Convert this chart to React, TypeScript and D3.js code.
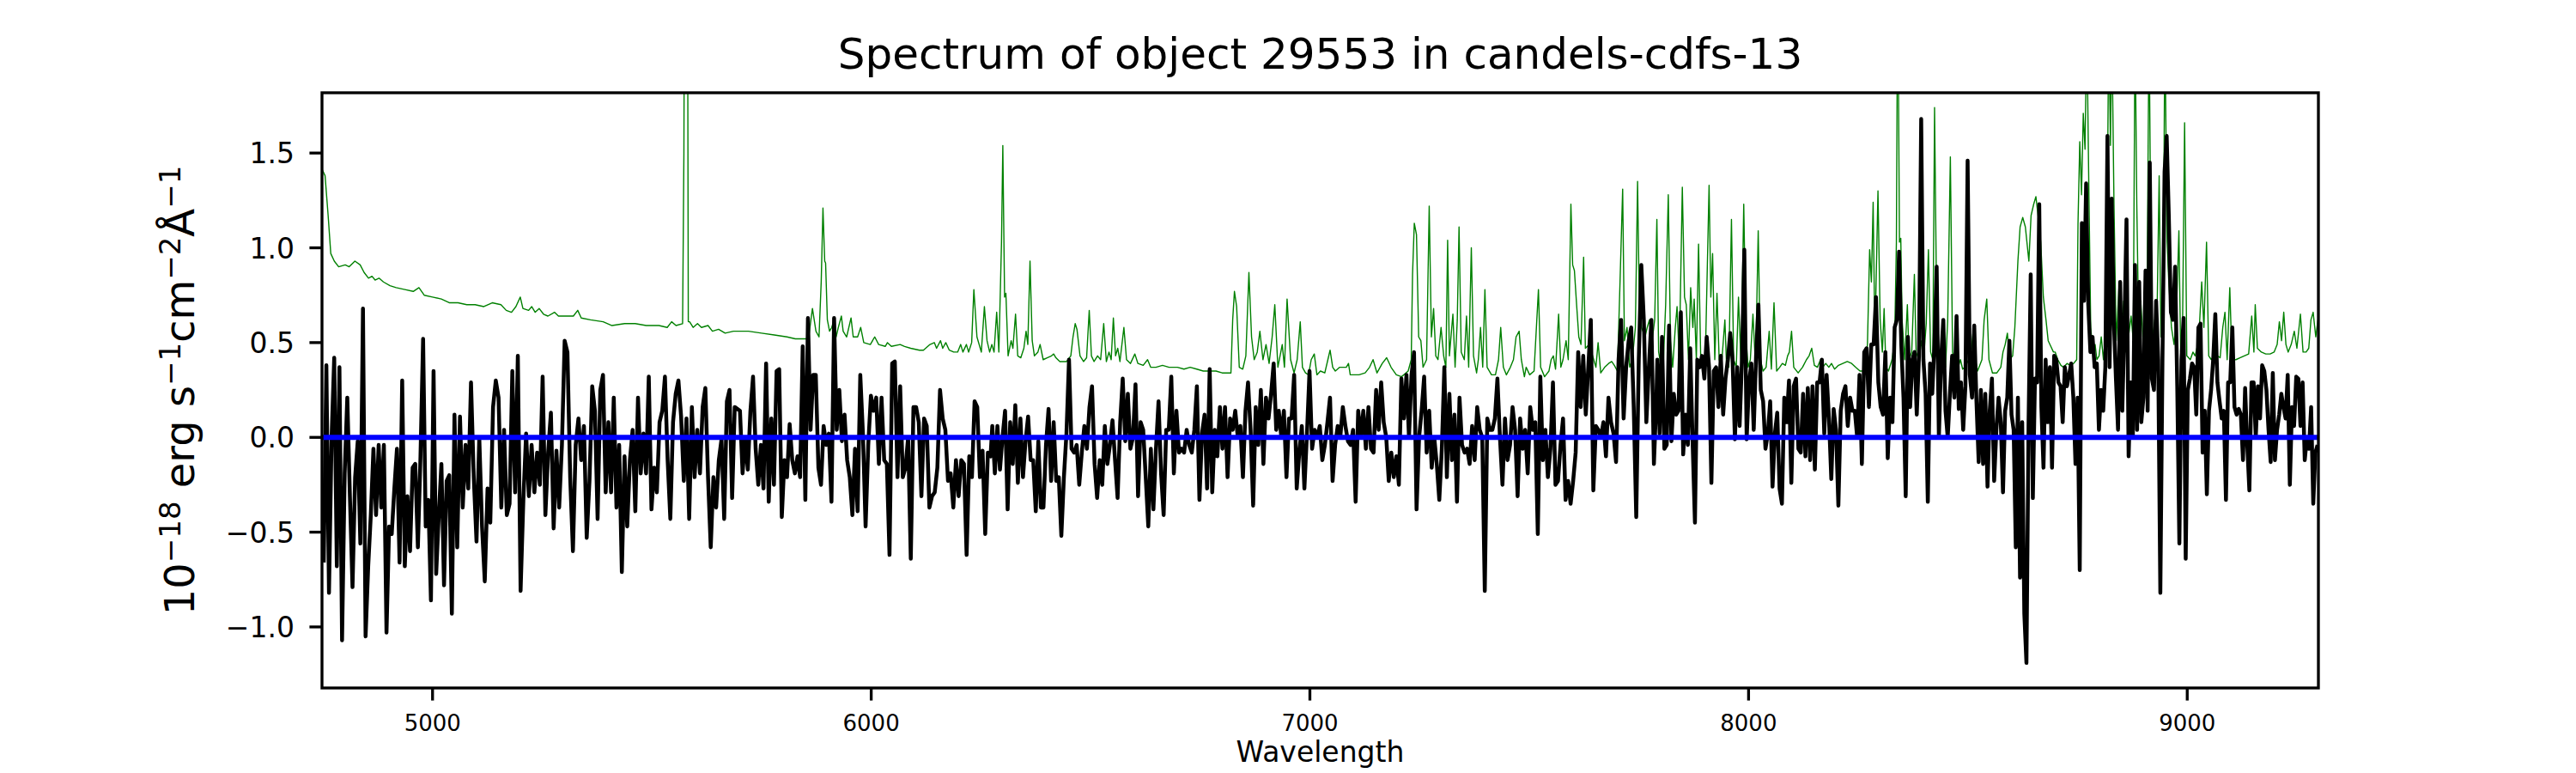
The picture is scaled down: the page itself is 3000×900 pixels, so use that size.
import React from 'react';
import * as d3 from 'd3';

const TITLE = 'Spectrum of object 29553 in candels-cdfs-13';
const X_LABEL = 'Wavelength';
const X_TICKS = [5000, 6000, 7000, 8000, 9000];
const Y_TICKS = [-1.0, -0.5, 0.0, 0.5, 1.0, 1.5];
const X_DOMAIN: [number, number] = [4748, 9299];
const Y_DOMAIN: [number, number] = [-1.322, 1.818];

// Observed flux in three pieces; each piece has a wavelength solution
// given as (sample index -> wavelength) anchor points.
const WAVE_A_INDEX = [0, 50, 100, 150, 200, 250];
const WAVE_A = [4752, 5050, 5364, 5671, 5969, 6272];
const FLUX_A = [
  -0.66,0.38,-0.82,0.00,0.42,-0.68,0.37,-1.07,-0.19,0.21,
  -0.31,-0.79,-0.21,-0.02,-0.56,0.68,-1.05,-0.68,-0.41,-0.06,
  -0.41,-0.04,-0.37,-0.04,-1.03,-0.47,-0.51,-0.27,-0.06,-0.66,
  0.30,-0.68,-0.31,-0.60,-0.16,-0.14,-0.58,-0.10,0.52,-0.47,
  -0.33,-0.86,0.35,-0.72,-0.41,-0.14,-0.78,-0.23,-0.20,-0.93,
  0.12,-0.58,0.11,-0.37,-0.04,-0.27,0.29,-0.21,-0.55,0.00,
  -0.47,-0.76,-0.27,-0.45,0.16,0.30,0.21,-0.37,0.04,-0.41,
  -0.35,0.35,-0.29,0.43,-0.81,-0.33,0.02,-0.31,-0.04,-0.29,
  -0.08,-0.25,0.32,-0.41,-0.08,0.13,-0.48,-0.07,-0.37,-0.04,
  0.51,0.45,-0.21,-0.60,-0.04,0.10,-0.12,0.06,-0.53,-0.23,
  0.27,0.14,-0.43,0.25,0.33,-0.29,0.08,-0.29,0.21,-0.37,
  -0.04,-0.71,-0.10,-0.47,-0.12,0.04,-0.39,0.21,-0.19,0.02,
  -0.19,0.32,-0.38,-0.16,-0.29,0.08,0.14,0.32,-0.12,-0.43,
  0.08,0.23,0.30,0.11,-0.23,0.10,-0.43,0.16,-0.21,0.04,
  -0.19,0.16,0.26,-0.21,-0.58,-0.21,-0.37,-0.12,-0.01,-0.43,
  0.19,0.25,-0.32,0.16,0.15,0.14,-0.19,0.00,-0.17,0.14,
  0.32,-0.06,-0.25,-0.04,-0.27,0.39,-0.34,0.10,-0.25,0.35,
  0.36,-0.42,-0.12,-0.21,0.07,-0.12,-0.19,-0.10,-0.21,0.48,
  -0.33,0.63,0.04,0.33,0.33,-0.16,-0.25,0.06,-0.04,0.02,
  -0.34,0.63,0.04,0.25,-0.02,0.12,-0.12,-0.21,-0.41,-0.06,
  -0.39,0.33,0.02,-0.47,-0.04,0.22,0.14,0.21,-0.14,0.21,
  -0.12,-0.14,-0.62,0.39,0.40,-0.21,0.27,-0.21,-0.16,0.00,
  -0.64,0.16,0.16,0.08,-0.31,0.10,0.06,-0.37,-0.31,-0.29,
  -0.16,0.25,0.10,0.04,-0.23,-0.19,-0.37,-0.12,-0.31,-0.12,
  -0.14,-0.62,-0.10,-0.21,0.19,0.16,-0.21,-0.07,-0.51,-0.08,
  -0.10,
];

const WAVE_B_INDEX = [0, 100, 150, 200, 261];
const WAVE_B = [6276, 6859, 7151, 7439, 7790];
const FLUX_B = [
  0.06,-0.19,0.06,-0.17,0.00,0.14,-0.38,0.08,-0.14,0.17,
  -0.24,0.10,-0.21,-0.02,0.11,-0.12,-0.12,-0.39,-0.02,-0.37,
  -0.37,-0.04,0.15,-0.23,0.08,-0.23,-0.21,-0.52,-0.21,0.02,
  0.41,-0.06,-0.08,-0.04,-0.25,-0.08,0.06,-0.06,0.16,0.27,
  -0.14,-0.32,-0.12,-0.25,0.06,-0.14,-0.04,0.09,-0.12,-0.32,
  0.08,0.31,-0.02,0.23,-0.06,0.00,0.28,-0.31,0.08,0.04,
  -0.21,-0.47,-0.06,-0.38,-0.06,0.19,-0.19,-0.41,0.04,0.04,
  0.32,-0.19,0.14,-0.08,-0.06,-0.08,0.04,-0.04,-0.08,0.04,
  0.27,-0.33,0.02,0.12,-0.27,0.36,-0.29,0.04,-0.10,0.16,
  -0.06,0.16,-0.21,0.10,0.04,0.14,0.00,0.06,-0.21,0.14,
  0.29,0.04,-0.36,0.16,-0.04,0.25,-0.14,0.21,0.10,0.23,
  0.39,0.04,0.14,0.00,0.14,-0.21,0.10,0.10,0.33,-0.27,
  -0.08,0.06,-0.27,0.02,0.35,-0.06,0.04,0.00,0.06,-0.12,
  -0.04,0.08,0.21,-0.23,-0.04,0.06,0.00,0.16,0.06,-0.02,
  -0.04,0.04,-0.34,0.14,0.00,0.14,-0.06,0.16,-0.06,-0.08,
  0.25,0.04,0.29,0.08,0.00,-0.23,-0.08,-0.21,-0.10,-0.25,
  0.31,0.10,0.33,0.00,0.33,0.45,-0.38,0.00,0.14,0.32,
  -0.08,0.14,-0.16,0.00,-0.14,-0.33,-0.06,0.37,-0.21,0.23,
  -0.12,0.12,-0.34,0.21,-0.04,-0.08,-0.06,-0.14,0.06,-0.12,
  0.16,0.04,0.00,-0.81,0.10,0.04,0.04,0.10,0.31,0.00,
  -0.25,0.10,-0.12,-0.04,0.16,0.04,-0.31,0.10,-0.06,0.04,
  -0.19,0.16,0.04,0.08,-0.51,0.32,-0.12,0.04,-0.21,-0.06,
  0.29,-0.25,-0.23,-0.04,0.10,-0.33,-0.23,-0.35,-0.23,-0.08,
  0.45,0.16,0.43,0.12,0.37,0.62,-0.28,0.06,0.04,0.00,
  0.08,-0.10,0.21,0.08,0.02,-0.13,0.41,0.62,0.10,0.37,
  0.51,0.58,0.16,-0.42,0.41,0.91,0.62,0.08,0.37,0.62,
  -0.14,0.21,
];

const WAVE_C_INDEX = [0, 50, 100, 150, 200, 250, 298];
const WAVE_C = [7792, 8060, 8328, 8580, 8823, 9064, 9297];
const FLUX_C = [
  0.41,0.02,0.53,-0.06,-0.04,0.59,-0.02,0.23,0.12,0.14,
  0.66,-0.09,0.12,-0.04,0.47,-0.02,-0.45,0.41,0.37,0.43,
  0.31,0.53,0.37,-0.24,0.35,0.37,0.16,0.43,0.12,0.31,
  0.41,0.55,0.41,-0.01,0.37,0.06,0.41,0.99,-0.01,0.29,
  0.39,0.04,0.43,0.70,0.25,0.19,-0.06,0.02,0.19,-0.26,
  0.02,0.13,-0.27,-0.35,0.21,0.08,0.30,-0.24,0.27,0.31,
  -0.06,-0.08,0.23,-0.10,0.26,-0.12,0.27,-0.17,0.29,0.29,
  0.41,0.02,0.33,0.10,-0.22,0.15,0.04,-0.36,0.14,0.23,
  0.27,0.06,0.21,0.14,0.14,0.00,0.33,-0.14,0.45,0.47,
  0.16,0.49,0.49,0.74,0.29,0.16,0.12,0.45,-0.11,0.21,
  0.08,0.58,0.62,0.98,0.49,0.21,-0.31,0.53,0.16,0.41,
  0.45,0.12,0.43,1.68,0.41,0.23,-0.34,0.39,0.23,0.49,
  0.90,0.00,0.41,0.62,0.14,0.00,0.23,0.43,0.21,0.64,
  0.15,0.29,0.04,0.27,1.46,0.33,0.21,0.59,0.19,-0.13,
  0.25,-0.14,0.23,-0.26,0.14,0.31,-0.23,0.04,0.21,0.08,
  -0.29,0.14,0.21,0.51,0.12,0.04,-0.58,0.21,-0.74,0.08,
  -0.93,-1.19,0.08,0.86,-0.32,0.31,0.29,1.23,0.16,-0.16,
  0.41,0.08,0.37,-0.16,0.43,0.41,0.29,0.27,0.08,0.37,
  0.27,0.33,0.39,0.21,-0.14,0.21,-0.70,1.13,0.72,1.34,
  0.70,0.45,0.53,0.37,0.39,0.04,0.25,0.14,0.37,1.59,
  0.37,1.26,0.62,0.31,0.04,0.82,0.14,0.58,1.15,-0.10,
  0.29,0.00,0.91,0.04,0.82,0.08,0.21,0.88,0.14,1.45,
  0.31,0.25,0.72,0.41,-0.82,0.41,1.40,1.59,1.17,0.66,
  0.62,0.90,0.27,-0.56,0.41,0.63,-0.64,0.25,0.31,0.39,
  0.37,0.12,0.58,0.60,-0.08,0.14,-0.30,0.14,0.25,0.41,
  0.65,0.29,0.19,0.10,0.14,-0.33,0.29,0.29,0.58,0.16,
  0.12,0.15,0.12,-0.12,0.26,-0.04,-0.28,0.29,0.29,0.00,
  0.27,0.10,0.38,0.35,0.25,0.04,-0.13,0.34,-0.12,0.04,
  0.12,0.23,0.16,0.10,0.33,-0.25,0.16,0.06,0.32,0.31,
  0.06,0.29,-0.12,0.00,-0.06,0.16,-0.35,-0.08,-0.04,
];

// Sky / noise spectrum (green): [wavelength, flux]
const SKY: [number, number][] = [
  [4747,1.42],[4755,1.38],[4762,1.17],[4768,0.97],[4776,0.93],[4786,0.90],[4801,0.91],[4810,0.90],[4823,0.93],[4835,0.91],
  [4844,0.87],[4854,0.84],[4862,0.85],[4869,0.83],[4878,0.84],[4888,0.82],[4903,0.80],[4917,0.79],[4937,0.78],[4956,0.77],
  [4969,0.79],[4981,0.75],[5000,0.74],[5020,0.73],[5039,0.71],[5058,0.71],[5078,0.70],[5097,0.70],[5117,0.69],[5136,0.71],
  [5156,0.70],[5168,0.67],[5180,0.66],[5190,0.69],[5200,0.74],[5206,0.68],[5219,0.67],[5226,0.69],[5234,0.66],[5243,0.68],
  [5253,0.65],[5263,0.64],[5278,0.66],[5287,0.64],[5307,0.64],[5321,0.64],[5331,0.67],[5339,0.63],[5360,0.62],[5389,0.61],
  [5409,0.59],[5438,0.60],[5462,0.60],[5487,0.59],[5516,0.59],[5535,0.58],[5545,0.61],[5555,0.59],[5570,0.60],[5573,1.5],
  [5576,4.0],[5580,4.0],[5583,0.61],[5586,0.61],[5594,0.58],[5604,0.60],[5613,0.58],[5628,0.59],[5638,0.56],[5652,0.57],
  [5667,0.55],[5686,0.56],[5701,0.56],[5720,0.56],[5750,0.55],[5779,0.54],[5808,0.53],[5827,0.52],[5852,0.52],[5857,0.52],
  [5866,0.68],[5874,0.56],[5881,0.53],[5886,0.82],[5890,1.21],[5894,0.93],[5896,0.92],[5900,0.62],[5905,0.56],[5910,0.58],
  [5915,0.62],[5920,0.53],[5925,0.58],[5932,0.64],[5936,0.56],[5944,0.53],[5954,0.63],[5959,0.53],[5969,0.53],[5976,0.58],
  [5983,0.50],[5998,0.49],[6008,0.53],[6017,0.49],[6032,0.48],[6037,0.50],[6046,0.48],[6066,0.49],[6076,0.48],[6090,0.47],
  [6110,0.46],[6119,0.46],[6134,0.49],[6144,0.50],[6149,0.47],[6158,0.51],[6163,0.47],[6170,0.50],[6178,0.46],[6188,0.45],
  [6197,0.45],[6204,0.49],[6209,0.45],[6217,0.49],[6222,0.45],[6229,0.50],[6234,0.78],[6241,0.53],[6251,0.45],[6258,0.69],
  [6264,0.51],
  [6270,0.45],[6275,0.49],[6280,0.45],[6286,0.66],[6291,0.45],[6297,1.03],[6300,1.54],[6304,0.74],[6307,0.76],[6312,0.43],
  [6319,0.51],[6323,0.47],[6329,0.65],[6334,0.43],[6341,0.42],[6348,0.47],[6353,0.56],[6357,0.49],[6362,0.93],[6367,0.51],
  [6372,0.43],[6380,0.45],[6385,0.49],[6392,0.41],[6401,0.42],[6411,0.43],[6416,0.44],[6421,0.42],[6430,0.40],[6445,0.40],
  [6455,0.43],[6460,0.53],[6465,0.60],[6469,0.57],[6476,0.43],[6484,0.40],[6491,0.42],[6497,0.67],[6502,0.43],[6508,0.40],
  [6516,0.43],[6523,0.41],[6530,0.60],[6536,0.40],[6542,0.45],[6547,0.41],[6552,0.63],[6557,0.43],[6562,0.47],[6567,0.40],
  [6576,0.58],[6582,0.41],[6591,0.39],[6601,0.44],[6608,0.39],[6620,0.38],[6630,0.41],[6637,0.37],[6649,0.37],[6664,0.38],
  [6679,0.37],[6698,0.37],[6713,0.36],[6727,0.37],[6742,0.36],[6757,0.35],[6771,0.35],[6786,0.35],[6800,0.34],[6820,0.34],
  [6824,0.62],[6828,0.77],[6833,0.69],[6839,0.37],[6847,0.36],[6854,0.43],[6861,0.87],[6867,0.53],[6873,0.41],[6880,0.45],
  [6886,0.56],[6893,0.41],[6900,0.49],[6907,0.39],[6914,0.53],[6920,0.70],[6927,0.37],[6937,0.49],[6942,0.37],[6948,0.73],
  [6956,0.41],[6964,0.34],[6971,0.41],[6978,0.61],[6983,0.37],[6990,0.34],[6997,0.33],[7003,0.41],[7010,0.44],[7016,0.33],
  [7024,0.35],[7034,0.34],[7041,0.41],[7046,0.46],[7052,0.37],[7058,0.35],[7068,0.37],[7083,0.37],[7088,0.39],[7092,0.33],
  [7112,0.33],[7126,0.34],[7136,0.37],[7144,0.41],[7153,0.34],[7165,0.39],[7175,0.42],[7185,0.37],[7197,0.33],[7209,0.32],
  [7224,0.35],[7231,0.41],[7234,0.86],[7238,1.13],[7243,1.07],[7248,0.53],[7253,0.51],[7258,0.37],[7266,0.41],[7272,1.22],
  [7277,0.53],[7282,0.68],[7287,0.43],[7292,0.41],[7299,0.58],[7305,0.43],[7310,0.37],[7314,1.04],[7318,0.43],[7326,0.65],
  [7331,0.37],[7336,0.62],[7340,1.11],[7345,0.45],[7352,0.41],[7357,0.64],[7362,0.37],[7368,1.00],[7373,0.43],[7380,0.34],
  [7384,0.41],[7389,0.58],[7394,0.37],[7399,0.78],[7404,0.37],[7414,0.33],[7423,0.33],[7430,0.41],[7435,0.58],[7441,0.37],
  [7448,0.33],[7457,0.37],[7464,0.41],[7470,0.53],[7477,0.56],[7482,0.41],[7489,0.32],[7493,0.37],[7501,0.33],[7511,0.35],
  [7521,0.78],[7526,0.37],[7535,0.32],[7545,0.35],[7550,0.41],[7555,0.43],[7560,0.36],[7567,0.65],[7572,0.37],[7577,0.41],
  [7584,0.51],[7589,0.41],[7595,1.23],[7599,0.91],[7603,0.88],[7608,0.70],[7613,0.53],[7618,0.49],[7624,0.95],[7628,0.47],
  [7637,0.49],[7647,0.41],[7652,0.37],[7657,0.50],[7663,0.34],[7672,0.37],[7681,0.39],[7688,0.40],[7694,0.38],[7701,0.35],
  [7707,0.82],[7713,1.31],[7717,0.51],[7723,0.58],[7729,0.37],[7735,0.41],[7742,0.58],[7747,1.35],[7751,0.70],[7756,0.58],
  [7764,0.53],[7769,0.58],[7774,0.62],[7779,0.49],
  [7786,0.62],[7791,1.15],[7795,0.45],[7801,0.37],[7806,0.41],[7811,0.70],[7817,1.28],[7822,0.51],[7827,0.37],[7833,0.58],
  [7837,0.69],[7842,0.41],[7849,1.32],[7854,0.74],[7858,0.70],[7863,0.41],[7868,0.79],[7873,0.58],[7876,0.73],[7881,0.41],
  [7886,1.02],[7891,0.41],[7896,0.43],[7901,0.37],[7910,1.33],[7914,0.74],[7918,0.97],[7923,0.41],[7928,0.76],[7933,0.41],
  [7938,0.37],[7946,0.62],[7950,0.37],[7955,0.37],[7961,1.15],[7966,0.41],[7972,0.37],[7977,0.74],[7983,0.37],[7989,1.23],
  [7994,0.53],[7999,0.37],[8004,0.41],[8010,0.65],[8016,0.37],[8022,1.09],[8027,0.41],[8033,0.35],[8040,0.37],[8047,0.56],
  [8052,0.36],[8058,0.71],[8064,0.35],[8071,0.37],[8077,0.39],[8084,0.38],[8089,0.43],[8093,0.45],[8098,0.56],[8103,0.37],
  [8113,0.34],[8123,0.37],[8132,0.41],[8138,0.43],[8144,0.47],[8150,0.38],[8157,0.37],[8164,0.41],[8169,0.37],[8176,0.39],
  [8183,0.37],[8189,0.39],[8196,0.36],[8205,0.38],[8215,0.39],[8225,0.40],[8235,0.39],[8244,0.37],[8254,0.35],[8264,0.35],
  [8271,0.49],[8276,0.99],[8280,0.82],[8284,1.24],[8288,0.51],[8295,1.30],[8300,0.62],[8305,0.45],[8309,0.68],[8313,0.37],
  [8319,0.35],[8327,0.41],[8333,0.51],[8337,1.03],[8340,2.5],[8344,1.03],[8347,1.05],[8350,0.62],[8356,0.41],[8362,0.70],
  [8366,0.41],[8372,0.45],[8378,0.86],[8382,0.45],[8388,0.41],[8393,0.51],[8399,0.41],[8405,0.60],[8410,0.99],[8415,0.45],
  [8420,0.41],[8424,1.74],[8429,0.62],[8434,0.43],[8439,0.43],[8444,0.60],[8449,0.37],[8454,0.62],[8460,1.48],[8465,0.45],
  [8471,0.38],[8478,0.37],[8483,0.41],[8488,0.36],[8493,0.37],[8502,0.41],[8507,0.44],[8512,0.56],[8517,0.41],[8522,0.35],
  [8532,0.41],[8537,0.62],[8543,0.73],[8548,0.41],[8556,0.34],[8566,0.34],[8575,0.37],[8580,0.45],[8585,0.49],[8590,0.55],
  [8595,0.41],[8602,0.43],[8607,0.58],[8614,0.93],[8619,1.11],[8625,1.16],[8631,1.11],[8639,0.93],[8644,1.17],[8650,1.23],
  [8655,1.27],[8660,1.17],[8666,1.03],[8672,0.74],[8678,0.62],[8683,0.51],[8689,0.48],[8695,0.45],[8699,0.45],[8705,0.41],
  [8712,0.38],[8718,0.37],[8726,0.39],[8733,0.38],[8741,0.39],[8748,0.41],[8751,1.13],[8755,1.56],[8759,1.28],[8763,1.71],
  [8767,1.52],[8771,2.2],[8775,1.44],[8780,0.58],[8785,0.45],[8790,0.49],[8794,0.41],[8799,0.43],[8804,0.53],[8809,0.41],
  [8816,0.62],[8821,2.2],[8825,1.54],[8828,2.2],[8833,1.23],[8838,0.51],[8845,0.82],[8850,0.51],[8855,0.72],[8860,0.45],
  [8865,0.51],[8872,0.64],[8877,0.51],[8881,2.2],[8885,1.23],[8889,0.62],[8894,0.72],[8899,0.53],[8903,0.45],[8908,0.62],
  [8913,2.2],[8917,1.03],[8921,0.51],[8926,0.62],[8931,0.62],[8936,1.38],[8940,0.53],[8945,0.62],[8949,2.2],[8954,1.03],
  [8958,0.82],[8964,0.58],[8970,0.49],[8975,0.62],[8981,1.09],[8985,0.45],[8989,0.51],[8994,1.66],[8999,0.43],[9007,0.41],
  [9013,0.45],[9018,0.43],[9026,0.51],[9033,0.82],[9038,0.58],[9044,1.03],[9049,0.43],[9055,0.41],[9062,0.43],[9069,0.43],
  [9075,0.42],[9081,0.58],[9086,0.66],[9091,0.41],[9097,0.79],[9102,0.41],[9111,0.41],[9120,0.42],[9130,0.43],[9140,0.44],
  [9147,0.64],[9152,0.45],[9155,0.70],[9160,0.47],[9169,0.45],[9179,0.44],[9189,0.44],[9198,0.45],[9205,0.49],[9210,0.61],
  [9215,0.51],[9220,0.66],[9225,0.49],[9230,0.45],[9237,0.49],[9244,0.56],[9250,0.47],[9258,0.65],[9264,0.45],[9271,0.45],
  [9277,0.47],[9282,0.62],[9287,0.66],[9293,0.53],[9298,0.62],
];

// Continuum model (blue)
const MODEL: [number, number][] = [[4750, 0], [9298, 0]];

const W = 3000;
const H = 900;
const M = { left: 375, right: 2700, top: 108, bottom: 801 };
const FONT = '"DejaVu Sans", sans-serif';

function withWaves(index: number[], waves: number[], flux: number[]): [number, number][] {
  const solution = d3.scaleLinear().domain(index).range(waves);
  return flux.map((f, i) => [solution(i), f]);
}

export default function App() {
  const x = d3.scaleLinear().domain(X_DOMAIN).range([M.left, M.right]);
  const y = d3.scaleLinear().domain(Y_DOMAIN).range([M.bottom, M.top]);
  const line = d3
    .line<[number, number]>()
    .x((d) => x(d[0]))
    .y((d) => y(d[1]));

  const observed = [
    ...withWaves(WAVE_A_INDEX, WAVE_A, FLUX_A),
    ...withWaves(WAVE_B_INDEX, WAVE_B, FLUX_B),
    ...withWaves(WAVE_C_INDEX, WAVE_C, FLUX_C),
  ];
  const yFmt = d3.format('.1f');
  const tickLen = 14.6;
  const spineW = 3.33;
  const cx = (M.left + M.right) / 2;
  const cy = (M.top + M.bottom) / 2;

  return (
    <div style={{ position: 'absolute', left: 0, top: 0 }}>
      <svg width={W} height={H} style={{ display: 'block', background: '#fff' }}>
        <defs>
          <clipPath id="plot-clip">
            <rect x={M.left} y={M.top} width={M.right - M.left} height={M.bottom - M.top} />
          </clipPath>
        </defs>
        <rect x={0} y={0} width={W} height={H} fill="#fff" />
        <g clipPath="url(#plot-clip)">
          <path d={line(SKY) || ''} fill="none" stroke="#008000" strokeWidth={1.4} strokeLinejoin="round" />
          <path d={line(observed) || ''} fill="none" stroke="#000" strokeWidth={4.5} strokeLinejoin="round" />
          <path d={line(MODEL) || ''} fill="none" stroke="#0000ff" strokeWidth={6.2} />
        </g>
        <rect
          x={M.left}
          y={M.top}
          width={M.right - M.left}
          height={M.bottom - M.top}
          fill="none"
          stroke="#000"
          strokeWidth={spineW}
        />
        {X_TICKS.map((t) => (
          <g key={'x' + t}>
            <line x1={x(t)} x2={x(t)} y1={M.bottom} y2={M.bottom + tickLen} stroke="#000" strokeWidth={spineW} />
            <text x={x(t)} y={851} textAnchor="middle" fontFamily={FONT} fontSize={26} fill="#000">
              {t}
            </text>
          </g>
        ))}
        {Y_TICKS.map((t) => (
          <g key={'y' + t}>
            <line x1={M.left - tickLen} x2={M.left} y1={y(t)} y2={y(t)} stroke="#000" strokeWidth={spineW} />
            <text x={343} y={y(t) + 12} textAnchor="end" fontFamily={FONT} fontSize={33} fill="#000">
              {yFmt(t)}
            </text>
          </g>
        ))}
        <text x={cx} y={80} textAnchor="middle" fontFamily={FONT} fontSize={50} fill="#000">
          {TITLE}
        </text>
        <text x={cx} y={887} textAnchor="middle" fontFamily={FONT} fontSize={33} fill="#000">
          {X_LABEL}
        </text>
        <text
          transform={`translate(226, ${cy}) rotate(-90)`}
          textAnchor="middle"
          fontFamily={FONT}
          fontSize={48}
          fill="#000"
        >
          10
          <tspan fontSize={34} dy={-16}>−18</tspan>
          <tspan dy={16}> erg s</tspan>
          <tspan fontSize={34} dy={-16}>−1</tspan>
          <tspan dy={16}>cm</tspan>
          <tspan fontSize={34} dy={-16}>−2</tspan>
          <tspan dy={16}>Å</tspan>
          <tspan fontSize={34} dy={-16}>−1</tspan>
        </text>
      </svg>
    </div>
  );
}
